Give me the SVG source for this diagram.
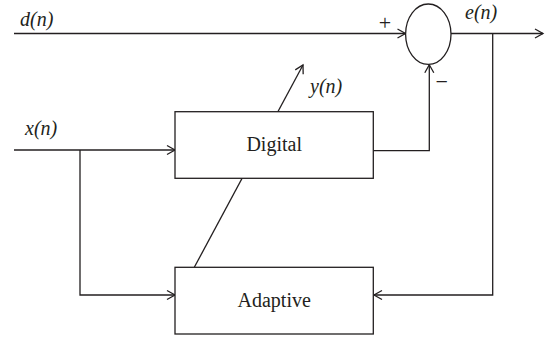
<svg xmlns="http://www.w3.org/2000/svg" width="547" height="339" viewBox="0 0 547 339">
  <style>
    .ln { fill: none; stroke: #231f20; stroke-width: 1.3; }
    .box { fill: #ffffff; stroke: #231f20; stroke-width: 1.3; }
    text { font-family: 'Liberation Serif', 'Times New Roman', serif; fill: #231f20; }
  </style>
  <defs>
    <marker id="arr" viewBox="-10 -6 12 12" markerWidth="12" markerHeight="12" refX="0" refY="0" orient="auto" markerUnits="userSpaceOnUse">
      <path d="M-8,-4.5 L0,0 L-8,4.5" fill="none" stroke="#231f20" stroke-width="1.3"/>
    </marker>
  </defs>
  <rect width="547" height="339" fill="#ffffff"/>
  <g id="connectors">
    <line class="ln" x1="14" y1="33.5" x2="405.5" y2="33.5" marker-end="url(#arr)"/>
    <line class="ln" x1="451" y1="33.5" x2="543" y2="33.5" marker-end="url(#arr)"/>
    <polyline class="ln" points="492.7,33.5 492.7,295 374,295" marker-end="url(#arr)"/>
    <line class="ln" x1="14" y1="150" x2="175" y2="150" marker-end="url(#arr)"/>
    <polyline class="ln" points="80,150 80,295 175,295" marker-end="url(#arr)"/>
    <polyline class="ln" points="373.3,150.7 429.3,150.7 429.3,64.8" marker-end="url(#arr)"/>
    <line class="ln" x1="194.3" y1="267.3" x2="303" y2="65" marker-end="url(#arr)"/>
  </g>
  <g id="sum">
    <ellipse class="box" cx="428.3" cy="34.2" rx="22.7" ry="30.2"/>
    <text x="385" y="30" text-anchor="middle" font-size="22">+</text>
    <text x="441.7" y="89" text-anchor="middle" font-size="22">−</text>
  </g>
  <g id="digital">
    <rect class="box" x="175" y="111.7" width="198.3" height="66.6"/>
    <text x="274.2" y="150.5" text-anchor="middle" font-size="20">Digital</text>
  </g>
  <g id="adaptive">
    <rect class="box" x="175" y="267.3" width="198.3" height="66.7"/>
    <text x="274.2" y="307" text-anchor="middle" font-size="20">Adaptive</text>
  </g>
  <g id="labels" font-size="20" font-style="italic">
    <text x="20" y="26">d(n)</text>
    <text x="465" y="19">e(n)</text>
    <text x="310" y="93">y(n)</text>
    <text x="25" y="135">x(n)</text>
  </g>
</svg>
